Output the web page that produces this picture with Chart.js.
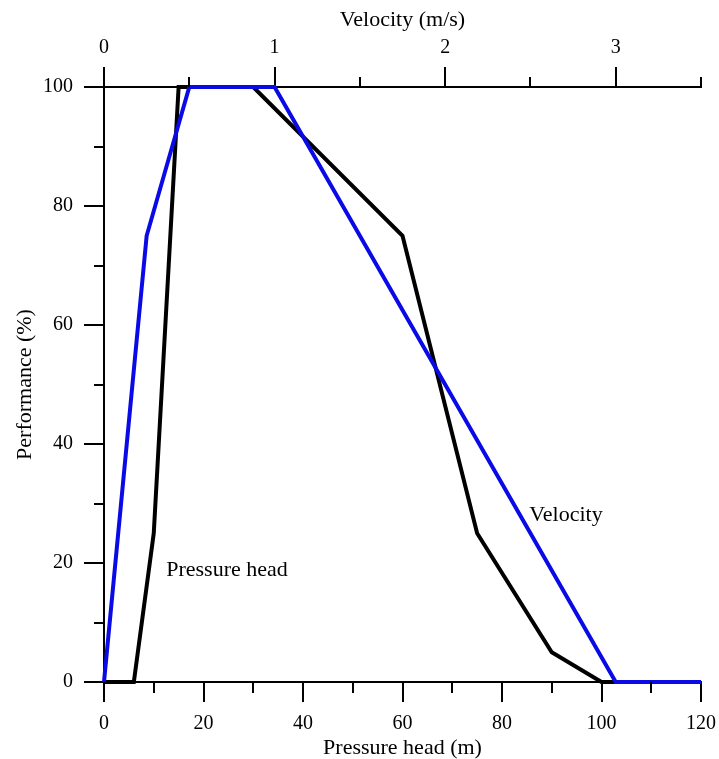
<!DOCTYPE html>
<html><head><meta charset="utf-8">
<script src="https://cdn.jsdelivr.net/npm/chart.js@4/dist/chart.umd.min.js"></script>
<style>html,body{margin:0;padding:0;background:#fff}canvas{display:block}</style>
</head><body>
<canvas id="c" width="719" height="759"></canvas>
<script>
// ---- data ----
const pressureHead = [0, 6, 10, 15, 30, 60, 75, 90, 100, 120];
const pressurePerf = [0, 0, 25, 100, 100, 75, 25, 5, 0, 0];
const velocity = [0, 0.25, 0.5, 1.0, 3.0, 3.5];
const velocityPerf = [0, 75, 100, 100, 0, 0];
const bottomTickLabels = [0, 20, 40, 60, 80, 100, 120];
const topTickLabels = [0, 1, 2, 3];
const yTickLabels = [0, 20, 40, 60, 80, 100];
const seriesNames = ['Pressure head', 'Velocity'];

const FONT = '"Liberation Serif", "Times New Roman", serif';

const blackPts = pressureHead.map((x, i) => ({x, y: pressurePerf[i]}));
const bluePts = velocity.map((x, i) => ({x, y: velocityPerf[i]}));

const isIn = (arr, v) => arr.some(a => Math.abs(a - v) < 1e-9);

const minorAndLabels = {
  id: 'minorAndLabels',
  afterDatasetsDraw(chart) {
    const ctx = chart.ctx;
    const ca = chart.chartArea;
    const sx = chart.scales.x, sx2 = chart.scales.x2, sy = chart.scales.y;
    ctx.save();
    ctx.strokeStyle = '#000';
    ctx.lineWidth = 2;
    ctx.beginPath();
    sx.ticks.forEach(t => {
      if (!isIn(bottomTickLabels, t.value)) {
        const p = Math.round(sx.getPixelForValue(t.value));
        ctx.moveTo(p, ca.bottom); ctx.lineTo(p, ca.bottom + 11);
      }
    });
    sx2.ticks.forEach(t => {
      if (!isIn(topTickLabels, t.value)) {
        const p = Math.round(sx2.getPixelForValue(t.value));
        ctx.moveTo(p, ca.top); ctx.lineTo(p, ca.top - 10);
      }
    });
    sy.ticks.forEach(t => {
      if (!isIn(yTickLabels, t.value)) {
        const p = Math.round(sy.getPixelForValue(t.value));
        ctx.moveTo(ca.left, p); ctx.lineTo(ca.left - 10, p);
      }
    });
    ctx.stroke();
    // series labels
    ctx.fillStyle = '#000';
    ctx.font = '22px ' + FONT;
    ctx.textAlign = 'left';
    ctx.textBaseline = 'alphabetic';
    ctx.fillText(seriesNames[0], sx.getPixelForValue(12.5), sy.getPixelForValue(17.8));
    ctx.fillText(seriesNames[1], sx.getPixelForValue(85.5), sy.getPixelForValue(27.0));
    ctx.restore();
  }
};

const majorColor = (arr) => (c) => (c.tick && isIn(arr, c.tick.value)) ? '#000' : 'rgba(0,0,0,0)';
const fitH = (h) => (s) => { s.height = h; s.paddingLeft = 0; s.paddingRight = 0; };

new Chart(document.getElementById('c'), {
  type: 'line',
  data: {
    datasets: [
      {
        label: seriesNames[1],
        data: bluePts,
        xAxisID: 'x2', yAxisID: 'y',
        borderColor: '#0a0ae6', borderWidth: 4,
        pointRadius: 0, fill: false, tension: 0, clip: false,
        borderJoinStyle: 'miter'
      },
      {
        label: seriesNames[0],
        data: blackPts,
        xAxisID: 'x', yAxisID: 'y',
        borderColor: '#000', borderWidth: 4,
        pointRadius: 0, fill: false, tension: 0, clip: false,
        borderJoinStyle: 'miter'
      }
    ]
  },
  options: {
    responsive: false,
    animation: false,
    layout: { padding: { left: 0, right: 18, top: 0, bottom: 0 } },
    plugins: { legend: { display: false }, tooltip: { enabled: false } },
    scales: {
      x: {
        type: 'linear', position: 'bottom', min: 0, max: 120,
        afterFit: fitH(77),
        ticks: {
          stepSize: 10, autoSkip: false, maxRotation: 0, padding: 10,
          color: '#000', font: { family: FONT, size: 20 },
          callback: v => isIn(bottomTickLabels, v) ? String(v) : ''
        },
        grid: { drawOnChartArea: false, drawTicks: true, tickLength: 20, tickWidth: 2, tickColor: majorColor(bottomTickLabels), lineWidth: 2 },
        border: { display: true, color: '#000', width: 2 },
        title: { display: true, text: 'Pressure head (m)', color: '#000', font: { family: FONT, size: 22, lineHeight: 1 }, padding: { top: 0, bottom: 0 } }
      },
      x2: {
        type: 'linear', position: 'top', min: 0, max: 3.5,
        afterFit: fitH(87),
        ticks: {
          stepSize: 0.5, autoSkip: false, maxRotation: 0, padding: 7,
          color: '#000', font: { family: FONT, size: 20 },
          callback: v => isIn(topTickLabels, v) ? String(v) : ''
        },
        grid: { drawOnChartArea: false, drawTicks: true, tickLength: 20, tickWidth: 2, tickColor: majorColor(topTickLabels), lineWidth: 2 },
        border: { display: true, color: '#000', width: 2 },
        title: { display: true, text: 'Velocity (m/s)', color: '#000', font: { family: FONT, size: 22, lineHeight: 1.2 }, padding: { top: 7, bottom: 0 } }
      },
      y: {
        type: 'linear', position: 'left', min: 0, max: 100,
        afterFit: s => { s.width = 104; s.paddingTop = 0; s.paddingBottom = 0; },
        ticks: {
          stepSize: 10, autoSkip: false, padding: 11,
          color: '#000', font: { family: FONT, size: 20 },
          callback: v => isIn(yTickLabels, v) ? String(v) : ''
        },
        grid: { drawOnChartArea: false, drawTicks: true, tickLength: 20, tickWidth: 2, tickColor: majorColor(yTickLabels), lineWidth: 2 },
        border: { display: true, color: '#000', width: 2 },
        title: { display: true, text: 'Performance (%)', color: '#000', font: { family: FONT, size: 22, lineHeight: 1.2 }, padding: { top: 12, bottom: 0 } }
      }
    }
  },
  plugins: [minorAndLabels]
});
</script>
</body></html>
